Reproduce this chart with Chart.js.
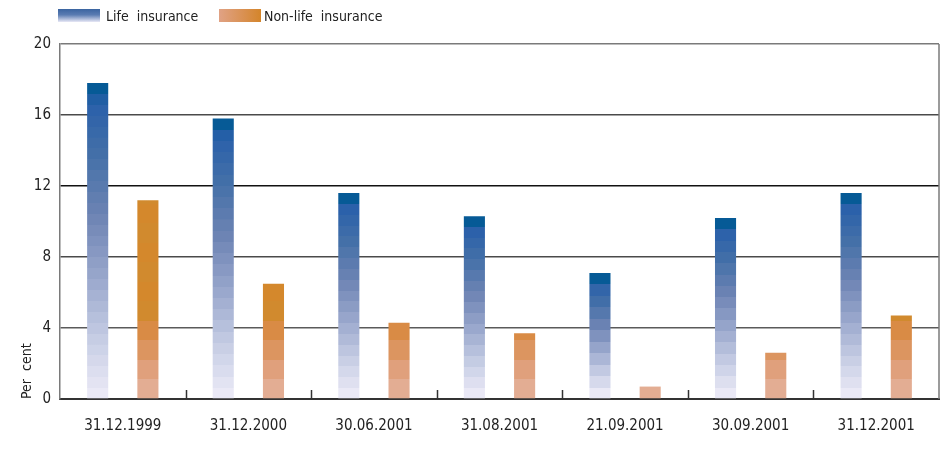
<!DOCTYPE html>
<html>
<head>
<meta charset="utf-8">
<script src="https://cdn.jsdelivr.net/npm/chart.js@4"></script>
<style>
  html, body { margin: 0; padding: 0; background: #ffffff; }
  #wrap { width: 950px; height: 450px; }
</style>
</head>
<body>
<div id="wrap"><canvas id="chart" width="950" height="450"></canvas></div>
<script>
// Reporting dates on the category axis
const categories = ['31.12.1999', '31.12.2000', '30.06.2001', '31.08.2001', '21.09.2001', '30.09.2001', '31.12.2001'];
// Share of equities, per cent
const lifeInsurance = [17.8, 15.8, 11.6, 10.3, 7.1, 10.2, 11.6];
const nonLifeInsurance = [11.2, 6.5, 4.3, 3.7, 0.7, 2.6, 4.7];
// Value axis ticks
const yTicks = [0, 4, 8, 12, 16, 20];
const seriesNames = ['Life  insurance', 'Non-life  insurance'];

const FONT = "'DejaVu Sans Condensed', 'DejaVu Sans', sans-serif";
Chart.defaults.font.family = FONT;
Chart.defaults.color = '#222';

function hexToRgb(h) {
  const n = parseInt(h.slice(1), 16);
  return [(n >> 16) & 255, (n >> 8) & 255, n & 255];
}
function mix(stops, t) {
  for (let i = 1; i < stops.length; i++) {
    if (t <= stops[i][0]) {
      const [p0, c0] = stops[i - 1];
      const [p1, c1] = stops[i];
      const k = (t - p0) / (p1 - p0 || 1);
      const a = hexToRgb(c0), b = hexToRgb(c1);
      return 'rgb(' + a.map((v, j) => Math.round(v + (b[j] - v) * k)).join(',') + ')';
    }
  }
  return stops[stops.length - 1][1];
}

// Banded blue shading, dark at the top of each bar, pale at its foot
const lifeStops = [[0, '#065a96'], [0.05, '#2a60aa'], [0.22, '#4470a8'], [0.42, '#6e84b4'], [0.62, '#99a7cc'], [0.82, '#c6cde4'], [1, '#eae9f6']];
function lifeFill(context) {
  const chart = context.chart;
  if (context.type !== 'data' || !chart.chartArea) return '#5a7cb0';
  const y = chart.scales.y;
  const top = y.getPixelForValue(context.raw);
  const base = y.getPixelForValue(0);
  const g = chart.ctx.createLinearGradient(0, top, 0, base);
  const n = Math.max(4, Math.round((base - top) / 11));
  for (let i = 0; i < n; i++) {
    const col = mix(lifeStops, i / (n - 1));
    g.addColorStop(i / n, col);
    g.addColorStop(Math.min(1, (i + 1) / n - 0.0001), col);
  }
  return g;
}

// Orange shading in steps of about one percentage point from the axis up
const nonLifeBands = ['#e3ad93', '#e0a07c', '#dc9560', '#d98b45', '#d4872e'];
function nonLifeFill(context) {
  const chart = context.chart;
  if (context.type !== 'data' || !chart.chartArea) return '#d4872e';
  const y = chart.scales.y;
  const v = context.raw;
  const top = y.getPixelForValue(v);
  const base = y.getPixelForValue(0);
  const g = chart.ctx.createLinearGradient(0, base, 0, top);
  const step = 1.1;
  let lo = 0, i = 0;
  while (lo < v) {
    const hi = Math.min(v, lo + step);
    const col = i < nonLifeBands.length - 1 ? nonLifeBands[i] : (i % 2 ? '#d4882c' : '#d18a2e');
    g.addColorStop(lo / v, col);
    g.addColorStop(Math.min(1, hi / v - 0.0001), col);
    lo = hi; i++;
  }
  return g;
}

// Legend row above the plot
const legendPlugin = {
  id: 'seriesLegend',
  afterDraw(chart) {
    const ctx = chart.ctx;
    const items = [
      { x: 58, textX: 106, kind: 0 },
      { x: 219, textX: 264, kind: 1 }
    ];
    ctx.save();
    items.forEach((it, i) => {
      let g;
      if (it.kind === 0) {
        g = ctx.createLinearGradient(0, 9, 0, 22);
        g.addColorStop(0, '#3a64a0');
        g.addColorStop(0.45, '#5a7cb2');
        g.addColorStop(1, '#e8e8f6');
      } else {
        g = ctx.createLinearGradient(it.x, 0, it.x + 42, 0);
        g.addColorStop(0, '#e0a285');
        g.addColorStop(0.6, '#d99050');
        g.addColorStop(1, '#d4852a');
      }
      ctx.fillStyle = g;
      ctx.fillRect(it.x, 9, 42, 13);
      ctx.fillStyle = '#222';
      ctx.font = '14px ' + FONT;
      ctx.textBaseline = 'middle';
      ctx.textAlign = 'left';
      ctx.fillText(chart.data.datasets[i].label, it.textX, 17);
    });
    ctx.restore();
  }
};

// Frame on the right and small separators between dates
const framePlugin = {
  id: 'frame',
  afterDraw(chart) {
    const { ctx, chartArea: a, scales } = chart;
    ctx.save();
    ctx.strokeStyle = '#7a7a7a';
    ctx.lineWidth = 1.5;
    ctx.beginPath();
    ctx.moveTo(a.right, a.top);
    ctx.lineTo(a.right, a.bottom);
    ctx.stroke();
    ctx.strokeStyle = '#333';
    ctx.lineWidth = 1.5;
    for (let i = 1; i < categories.length; i++) {
      const x = Math.round((scales.x.getPixelForValue(i - 1) + scales.x.getPixelForValue(i)) / 2) + 0.5;
      ctx.beginPath();
      ctx.moveTo(x, a.bottom - 9);
      ctx.lineTo(x, a.bottom);
      ctx.stroke();
    }
    ctx.restore();
  }
};

// Horizontal rules at each value tick
const gridColours = { 20: '#7a7a7a', 16: '#4a4a4a', 12: '#111111', 8: '#4a4a4a', 4: '#5a5a5a', 0: 'rgba(0,0,0,0)' };

new Chart(document.getElementById('chart'), {
  type: 'bar',
  data: {
    labels: categories,
    datasets: [
      { label: seriesNames[0], data: lifeInsurance, backgroundColor: lifeFill, borderWidth: 0,
        barPercentage: 0.42, categoryPercentage: 0.8 },
      { label: seriesNames[1], data: nonLifeInsurance, backgroundColor: nonLifeFill, borderWidth: 0,
        barPercentage: 0.42, categoryPercentage: 0.8 }
    ]
  },
  options: {
    responsive: false,
    animation: false,
    devicePixelRatio: 1,
    layout: { padding: { left: 19, right: 11, top: 44, bottom: -3 } },
    plugins: {
      tooltip: { enabled: false },
      legend: { display: false }
    },
    scales: {
      x: {
        grid: { drawOnChartArea: false, drawTicks: false },
        border: { color: '#333', width: 2 },
        ticks: { padding: 18, font: { size: 15 }, color: '#222' }
      },
      y: {
        min: 0,
        max: 20,
        afterBuildTicks(scale) { scale.ticks = yTicks.map(v => ({ value: v })); },
        afterFit(scale) { scale.width = 41; },
        grid: {
          drawTicks: false,
          lineWidth: 1.5,
          color: (c) => gridColours[c.tick.value] || '#333'
        },
        border: { color: '#7a7a7a', width: 1.5 },
        ticks: { padding: 9, font: { size: 15 }, color: '#222' },
        title: { display: true, text: 'Per  cent', align: 'start', font: { size: 14 }, color: '#222', padding: { top: 0, bottom: 0 } }
      }
    }
  },
  plugins: [framePlugin, legendPlugin]
});
</script>
</body>
</html>
